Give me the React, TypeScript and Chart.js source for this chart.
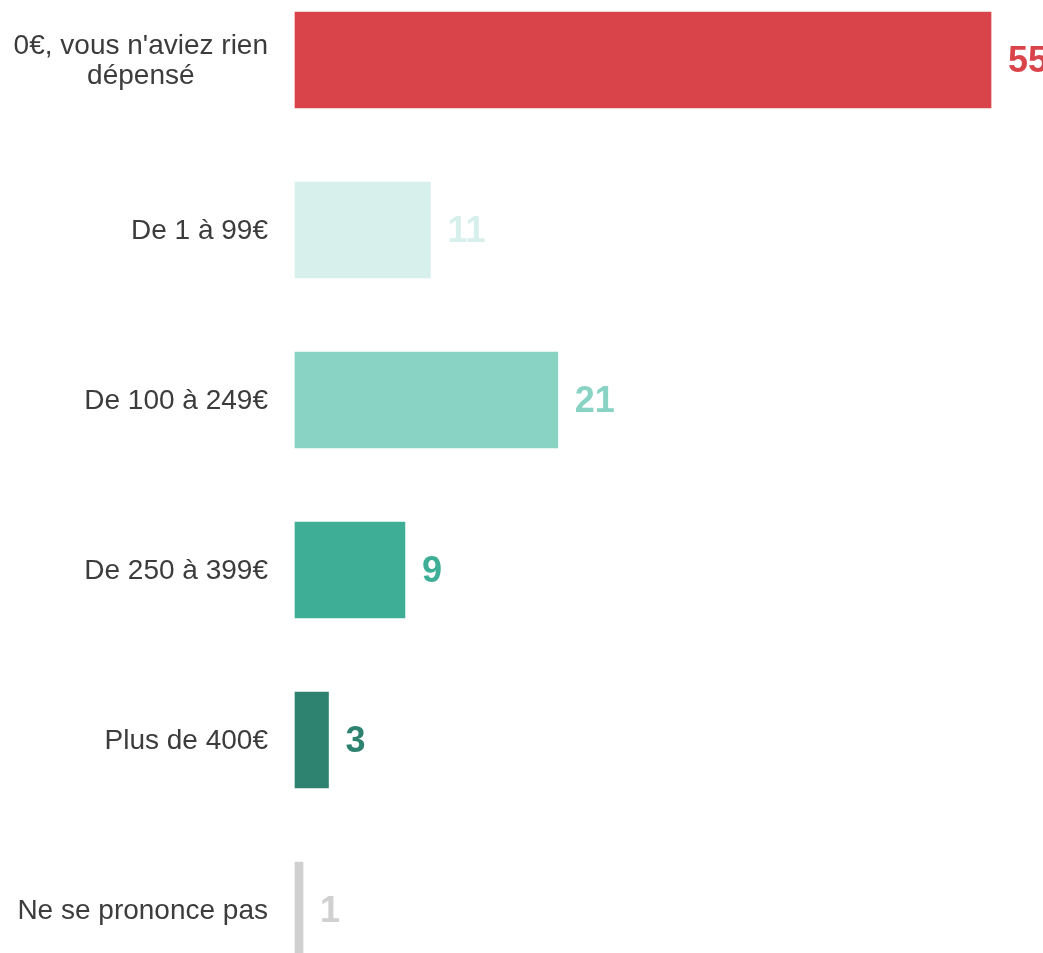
import React, { useEffect, useRef } from "react";
import { Chart, registerables } from "chart.js";

Chart.register(...registerables);

const categories: string[][] = [
  ["0€, vous n'aviez rien", "dépensé"],
  ["De 1 à 99€"],
  ["De 100 à 249€"],
  ["De 250 à 399€"],
  ["Plus de 400€"],
  ["Ne se prononce pas"],
];
const values: number[] = [55, 11, 21, 9, 3, 1];
const colors: string[] = ["#D9444B", "#D7F0EC", "#88D3C3", "#3EAF96", "#2E8370", "#D0D0D0"];

const FONT = "'Liberation Sans', Arial, Helvetica, sans-serif";
const X_MIN = 0.372;
const X_MAX = 59.08;

const labelsPlugin = {
  id: "customLabels",
  afterDatasetsDraw(chart: any) {
    const ctx = chart.ctx as CanvasRenderingContext2D;
    const meta = chart.getDatasetMeta(0);
    const yScale = chart.scales.y;
    ctx.save();
    // value labels
    ctx.font = `bold 36px ${FONT}`;
    ctx.textAlign = "left";
    ctx.textBaseline = "middle";
    meta.data.forEach((bar: any, i: number) => {
      ctx.fillStyle = colors[i];
      ctx.fillText(String(values[i]), bar.x + 17, bar.y + 2);
    });
    // category labels
    ctx.font = `28px ${FONT}`;
    ctx.fillStyle = "#3c3c3c";
    ctx.textAlign = "center";
    const rightX = 268;
    const lineH = 30;
    categories.forEach((lines, i) => {
      const cy = yScale.getPixelForValue(i);
      const maxW = Math.max(...lines.map((l) => ctx.measureText(l).width));
      const cx = rightX - maxW / 2;
      const startY = cy - ((lines.length - 1) * lineH) / 2;
      lines.forEach((l, j) => {
        ctx.fillText(l, cx, startY + j * lineH + 1);
      });
    });
    ctx.restore();
  },
};

export default function App() {
  const ref = useRef<HTMLCanvasElement | null>(null);
  useEffect(() => {
    if (!ref.current) return;
    const chart = new Chart(ref.current, {
      type: "bar",
      data: {
        labels: categories.map((c) => c.join(" ")),
        datasets: [
          {
            data: values,
            backgroundColor: colors,
            borderWidth: 0,
            barThickness: 96,
            base: X_MIN,
            clip: false as any,
          },
        ],
      },
      options: {
        indexAxis: "y",
        animation: false,
        responsive: true,
        maintainAspectRatio: false,
        layout: { padding: { left: 295, top: 60, bottom: 43, right: 0 } },
        plugins: { legend: { display: false }, tooltip: { enabled: false } },
        scales: {
          x: { display: false, min: X_MIN, max: X_MAX },
          y: { display: false, offset: false, grid: { offset: false } },
        },
      },
      plugins: [labelsPlugin],
    });
    return () => chart.destroy();
  }, []);
  return (
    <div style={{ position: "fixed", left: 0, top: 0, width: 1043, height: 953, background: "#fff" }}>
      <canvas ref={ref} />
    </div>
  );
}
